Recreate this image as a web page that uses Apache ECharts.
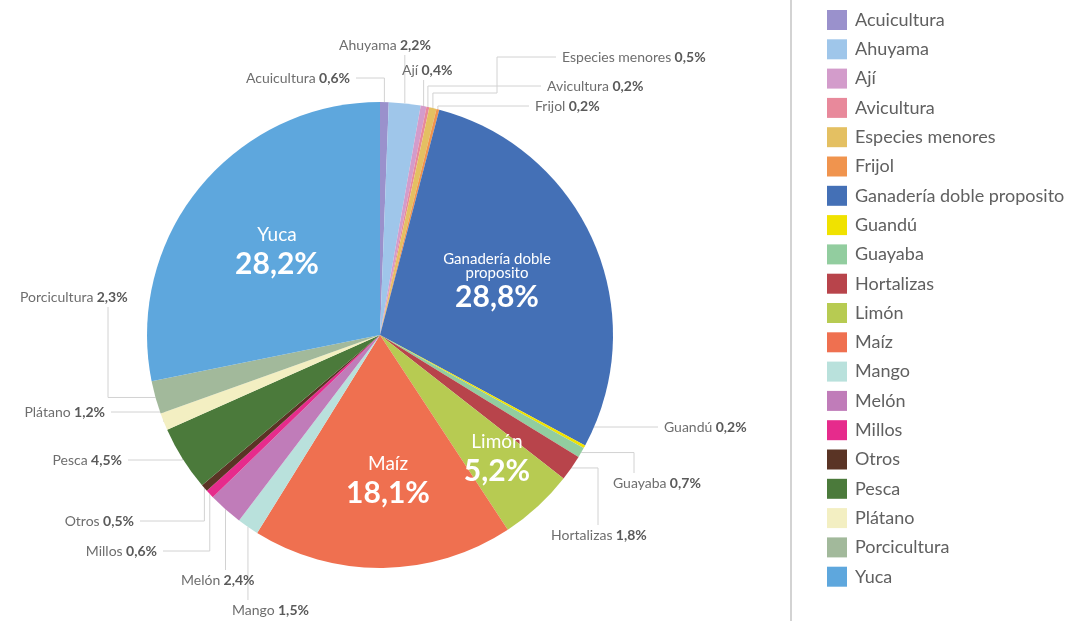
<!DOCTYPE html>
<html><head><meta charset="utf-8">
<script src="https://cdn.jsdelivr.net/npm/echarts@6/dist/echarts.min.js"></script>
<style>html,body{margin:0;padding:0;background:#fff}#c{width:1076px;height:621px}</style>
</head><body><div id="c"></div>
<script>
const categories = ['Acuicultura','Ahuyama','Ají','Avicultura','Especies menores','Frijol','Ganadería doble proposito','Guandú','Guayaba','Hortalizas','Limón','Maíz','Mango','Melón','Millos','Otros','Pesca','Plátano','Porcicultura','Yuca'];
const values = [0.6,2.2,0.4,0.2,0.5,0.2,28.8,0.2,0.7,1.8,5.2,18.1,1.5,2.4,0.6,0.5,4.5,1.2,2.3,28.2];
const colors = ['#9a91cc','#9fc6ea','#d39ccb','#e8899b','#e4c062','#f0944e','#4470b6','#f0e200','#92cd9f','#b8444b','#b7cb52','#ef7050','#b9e1dc','#c07cb9','#e62b8c','#5a3425','#4b7a3b','#f3efc2','#a2b99b','#5ea7dd'];
const insideNames = ['Ganadería doble proposito','Limón','Maíz','Yuca'];

// label placement (layout only)
const labelSpec = {
  'Acuicultura': {x:350, y:78, align:'right', line:'hv'},
  'Ahuyama': {x:385, y:45, align:'center', line:'v'},
  'Ají': {x:402, y:70, align:'left', line:'v'},
  'Avicultura': {x:547, y:86, align:'left', line:'hv'},
  'Especies menores': {x:562, y:57, align:'left', line:'via', via:[93, 497]},
  'Frijol': {x:535, y:106, align:'left', line:'hv'},
  'Guandú': {x:664, y:427, align:'left', line:'hv'},
  'Guayaba': {x:613, y:483, align:'left', line:'hvEnd', lx:634},
  'Hortalizas': {x:551, y:535, align:'left', line:'hvEnd', lx:598},
  'Porcicultura': {x:20, y:297, align:'left', line:'hvEnd', lx:108},
  'Plátano': {x:105, y:412, align:'right', line:'hv'},
  'Pesca': {x:122, y:460, align:'right', line:'hv'},
  'Otros': {x:134, y:521, align:'right', line:'hv'},
  'Millos': {x:157, y:551, align:'right', line:'hv'},
  'Melón': {x:181, y:580, align:'left', line:'v'},
  'Mango': {x:232, y:610, align:'left', line:'v'},
  'Yuca': {x:277, y:252, align:'center'},
  'Ganadería doble proposito': {x:497, y:283, align:'center'},
  'Maíz': {x:388, y:481, align:'center'},
  'Limón': {x:497, y:459, align:'center'}
};

function fmt(v){ return v.toFixed(1).replace('.', ',') + '%'; }

function linePts(p, s){
  if (!p.labelLinePoints || !s.line) return undefined;
  const a = p.labelLinePoints[0];
  const gap = 6;
  const edgeX = s.align === 'right' ? s.x + gap : s.x - gap;
  if (s.line === 'hv') return [a, [a[0], s.y], [edgeX, s.y]];
  if (s.line === 'v') { const ey = s.y < a[1] ? s.y + 10 : s.y - 10; return [a, [a[0], ey]]; }
  if (s.line === 'hvEnd') { const ey = s.y < a[1] ? s.y + 10 : s.y - 10; return [a, [s.lx, a[1]], [s.lx, ey]]; }
  if (s.line === 'via') return [a, [a[0], s.via[0]], [s.via[1], s.via[0]], [s.via[1], s.y], [edgeX, s.y]];
}

const FONT = 'Lato, "Open Sans", sans-serif';
const data = categories.map((name, i) => {
  const inside = insideNames.indexOf(name) >= 0;
  const item = { name: name, value: values[i], itemStyle: { color: colors[i] } };
  if (inside) {
    item.labelLine = { show: false };
    item.label = {
      formatter: function(p){
        const nm = p.name === 'Ganadería doble proposito' ? '{g|Ganadería doble\nproposito}' : '{in|' + p.name + '}';
        return nm + '\n{ip|' + fmt(p.value) + '}';
      },
      rich: {
        in: { color: '#fff', fontSize: 19, fontFamily: FONT, lineHeight: 24, align: 'center' },
        g: { color: '#fff', fontSize: 15, fontFamily: FONT, lineHeight: 14, align: 'center' },
        ip: { color: '#fff', fontSize: 30, fontWeight: 'bold', fontFamily: FONT, lineHeight: 34, align: 'center' }
      }
    };
  }
  return item;
});

const chart = echarts.init(document.getElementById('c'), null, { renderer: 'canvas' });
chart.setOption({
  backgroundColor: '#ffffff',
  animation: false,
  graphic: [{
    type: 'line', shape: { x1: 791, y1: 0, x2: 791, y2: 621 },
    style: { stroke: '#d3d3d3', lineWidth: 2 }
  }],
  legend: {
    orient: 'vertical', left: 822, top: 5,
    itemWidth: 20, itemHeight: 20, itemGap: 9.3,
    icon: 'rect',
    selectedMode: false,
    textStyle: { color: '#606060', fontSize: 18, fontFamily: FONT, padding: [0, 0, 0, 3] },
    data: categories
  },
  series: [{
    type: 'pie',
    center: [380, 335],
    radius: 233,
    startAngle: 90,
    clockwise: true,
    avoidLabelOverlap: false,
    emphasis: { disabled: true },
    data: data,
    label: {
      show: true,
      position: 'outside',
      formatter: function(p){ return '{n|' + p.name + '} {v|' + fmt(p.value) + '}'; },
      rich: {
        n: { color: '#6e6e6e', fontSize: 14, fontFamily: FONT },
        v: { color: '#5a5a5a', fontSize: 14, fontWeight: 'bold', fontFamily: FONT }
      }
    },
    labelLine: { show: true, length: 10, length2: 10, lineStyle: { color: '#d2d2d2', width: 1 } },
    labelLayout: function(p){
      const s = labelSpec[categories[p.dataIndex]];
      if (!s) return {};
      const o = { x: s.x, y: s.y, align: s.align, verticalAlign: 'middle' };
      const pts = linePts(p, s);
      if (pts) o.labelLinePoints = pts;
      return o;
    }
  }]
});
</script>
</body></html>
